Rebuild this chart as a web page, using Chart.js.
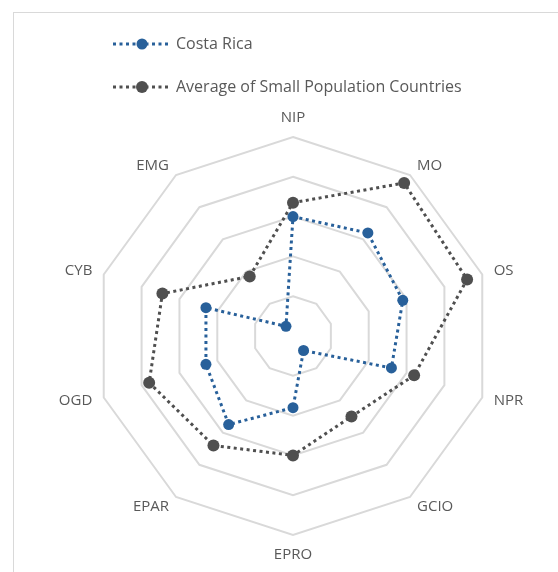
<!DOCTYPE html>
<html>
<head>
<meta charset="utf-8">
<script src="https://cdn.jsdelivr.net/npm/chart.js@4.4.0/dist/chart.umd.min.js"></script>
<style>
  html, body { margin: 0; padding: 0; background: #fff; }
  #wrap { position: relative; width: 558px; height: 572px; overflow: hidden; }
  #frame { position: absolute; left: 13px; top: 12px; width: 600px; height: 600px; border: 1.5px solid #d9d9d9; box-sizing: border-box; }
  canvas { position: absolute; left: 0; top: 0; }
</style>
</head>
<body>
<div id="wrap">
  <div id="frame"></div>
  <canvas id="chart" width="558" height="572"></canvas>
</div>
<script>
const categories = ["NIP", "MO", "OS", "NPR", "GCIO", "EPRO", "EPAR", "OGD", "CYB", "EMG"];
const costaRica = [3.0, 3.2, 2.9, 2.6, 0.45, 1.8, 2.75, 2.3, 2.3, 0.3];
const smallPopAvg = [3.35, 4.75, 4.6, 3.2, 2.5, 3.0, 3.4, 3.8, 3.45, 1.85];
const seriesNames = ["Costa Rica", "Average of Small Population Countries"];

const blue = "#28609a";
const grey = "#4f4f4f";
const textGrey = "#595959";
const fontFamily = "'Open Sans', sans-serif";

// custom legend: dotted line with marker in the middle
const dotLegend = {
  id: "dotLegend",
  afterDraw(chart) {
    const ctx = chart.ctx;
    const rows = [44, 87];
    chart.data.datasets.forEach((ds, i) => {
      const y = rows[i];
      ctx.save();
      ctx.strokeStyle = ds.borderColor;
      ctx.lineWidth = 3;
      ctx.setLineDash([3, 3.5]);
      ctx.beginPath();
      ctx.moveTo(113, y);
      ctx.lineTo(168, y);
      ctx.stroke();
      ctx.setLineDash([]);
      ctx.fillStyle = ds.pointBackgroundColor;
      ctx.beginPath();
      ctx.arc(142, y, ds.pointRadius, 0, Math.PI * 2);
      ctx.fill();
      ctx.fillStyle = textGrey;
      ctx.font = "16px " + fontFamily;
      ctx.textBaseline = "middle";
      ctx.textAlign = "left";
      ctx.fillText(ds.label, 176, y);
      ctx.restore();
    });
  }
};

// category labels, centred on the side spokes like the original
const spokeLabels = {
  id: "spokeLabels",
  afterDraw(chart) {
    const scale = chart.scales.r;
    const ctx = chart.ctx;
    const n = chart.data.labels.length;
    ctx.save();
    ctx.fillStyle = textGrey;
    ctx.font = "15px " + fontFamily;
    chart.data.labels.forEach((lab, i) => {
      const deg = i * 360 / n;
      const p = scale.getPointPosition(i, scale.drawingArea + 12);
      if (deg === 0 || deg === 180) ctx.textAlign = "center";
      else ctx.textAlign = deg < 180 ? "left" : "right";
      if (deg === 0) ctx.textBaseline = "bottom";
      else if (deg === 180) ctx.textBaseline = "top";
      else ctx.textBaseline = "middle";
      ctx.fillText(lab, p.x, p.y);
    });
    ctx.restore();
  }
};

new Chart(document.getElementById("chart"), {
  type: "radar",
  data: {
    labels: categories,
    datasets: [
      {
        label: seriesNames[0],
        data: costaRica,
        borderColor: blue,
        backgroundColor: "transparent",
        borderWidth: 3,
        borderDash: [3, 3.5],
        pointRadius: 5.5,
        pointBackgroundColor: blue,
        pointBorderColor: blue,
        pointBorderWidth: 0,
        fill: false
      },
      {
        label: seriesNames[1],
        data: smallPopAvg,
        borderColor: grey,
        backgroundColor: "transparent",
        borderWidth: 3,
        borderDash: [3, 3.5],
        pointRadius: 6,
        pointBackgroundColor: grey,
        pointBorderColor: grey,
        pointBorderWidth: 0,
        fill: false
      }
    ]
  },
  options: {
    responsive: false,
    animation: false,
    layout: { padding: { top: 137, bottom: 37, left: 94, right: 66 } },
    plugins: {
      legend: { display: false },
      tooltip: { enabled: false }
    },
    scales: {
      r: {
        min: 0,
        max: 5,
        ticks: { display: false, stepSize: 1 },
        angleLines: { display: false },
        grid: { color: "#d9d9d9", lineWidth: 2 },
        pointLabels: { display: false }
      }
    }
  },
  plugins: [dotLegend, spokeLabels]
});
</script>
</body>
</html>
